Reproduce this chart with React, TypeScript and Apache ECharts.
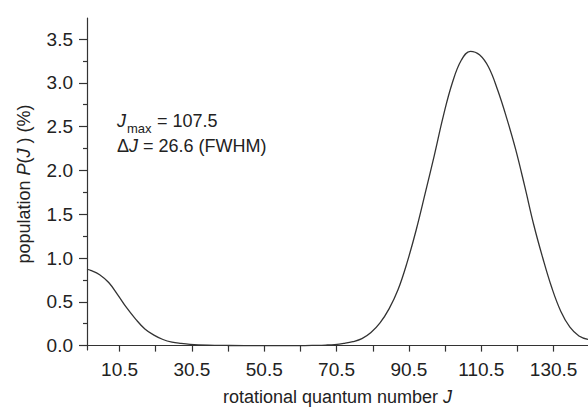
import React, { useEffect, useRef } from "react";
import * as echarts from "echarts";

const J_VALUES = [1.5, 2.5, 5, 7.5, 10, 12.5, 15, 17.5, 20, 22.5, 25, 27.5, 30, 35, 40, 45, 50, 55, 60, 65, 67.5, 70, 72.5, 75, 77.5, 80, 82.5, 85, 87.5, 90, 92.5, 95, 97.5, 100, 102.5, 105, 107.5, 110, 112.5, 115, 117.5, 120, 122.5, 125, 127.5, 130, 132.5, 135, 137.5, 140];
const POPULATION = [0.87, 0.86, 0.81, 0.72, 0.58, 0.43, 0.3, 0.19, 0.12, 0.07, 0.04, 0.025, 0.015, 0.006, 0.002, 0.0, 0.0, 0.0, 0.0, 0.003, 0.006, 0.012, 0.025, 0.045, 0.08, 0.15, 0.26, 0.42, 0.64, 0.95, 1.32, 1.74, 2.17, 2.62, 3.0, 3.26, 3.36, 3.32, 3.18, 2.92, 2.6, 2.24, 1.82, 1.38, 1.0, 0.66, 0.39, 0.21, 0.11, 0.07];

const X_LABELS = [10.5, 30.5, 50.5, 70.5, 90.5, 110.5, 130.5];
const X_TICKS = [10.5, 20.5, 30.5, 40.5, 50.5, 60.5, 70.5, 80.5, 90.5, 100.5, 110.5, 120.5, 130.5];
const Y_LABELS = [0, 0.5, 1.0, 1.5, 2.0, 2.5, 3.0, 3.5];
const Y_MINOR = [0.25, 0.75, 1.25, 1.75, 2.25, 2.75, 3.25];

const FONT = "'Liberation Sans', Arial, Helvetica, sans-serif";
const INK = "#222";

export default function App() {
  const ref = useRef<HTMLDivElement>(null);
  useEffect(() => {
    if (!ref.current) return;
    const chart = echarts.init(ref.current, undefined, { renderer: "svg" });
    const yMin = -0.05;
    const yMax = 3.74;
    chart.setOption({
      animation: false,
      backgroundColor: "#fff",
      textStyle: { fontFamily: FONT, color: INK },
      grid: { left: 87, right: 0, top: 18, bottom: 64 },
      xAxis: {
        type: "value",
        min: 1.5,
        max: 140,
        splitLine: { show: false },
        axisLine: { lineStyle: { color: "#333", width: 1.2 } },
        axisTick: { customValues: X_TICKS, length: 6, inside: false, lineStyle: { color: "#333", width: 1.2 } },
        axisLabel: {
          customValues: X_LABELS,
          formatter: (v: number) => v.toFixed(1),
          fontSize: 19,
          color: INK,
          margin: 10,
          fontFamily: FONT,
        },
        name: "rotational quantum number {i|J}",
        nameLocation: "middle",
        nameGap: 38,
        nameTextStyle: {
          fontSize: 18,
          color: INK,
          fontFamily: FONT,
          rich: { i: { fontSize: 18, fontStyle: "italic", color: INK, fontFamily: FONT } },
        },
      },
      yAxis: [
        {
          type: "value",
          min: yMin,
          max: yMax,
          position: "left",
          splitLine: { show: false },
          axisLine: { show: true, lineStyle: { color: "#333", width: 1.2 } },
          axisTick: { show: true, customValues: Y_LABELS, length: 8, lineStyle: { color: "#333", width: 1.2 } },
          axisLabel: {
            customValues: Y_LABELS,
            formatter: (v: number) => v.toFixed(1),
            fontSize: 19,
            color: INK,
            margin: 14,
            fontFamily: FONT,
          },
          name: "{n|population }{i|P}{n|(}{i|J}{n| ) (%)}",
          nameLocation: "middle",
          nameGap: 54,
          nameTextStyle: {
            fontSize: 18,
            color: INK,
            fontFamily: FONT,
            rich: {
              n: { fontSize: 18, color: INK, fontFamily: FONT },
              i: { fontSize: 18, fontStyle: "italic", color: INK, fontFamily: FONT },
            },
          },
        },
        {
          type: "value",
          min: yMin,
          max: yMax,
          position: "left",
          offset: 0,
          splitLine: { show: false },
          axisLine: { show: false },
          axisTick: { show: true, customValues: Y_MINOR, length: 4, lineStyle: { color: "#333", width: 1.2 } },
          axisLabel: { show: false },
        },
      ],
      series: [
        {
          type: "line",
          data: J_VALUES.map((j, i) => [j, POPULATION[i]]),
          smooth: 0.4,
          showSymbol: false,
          symbol: "none",
          lineStyle: { color: "#333", width: 1.3 },
          clip: true,
        },
      ],
      graphic: [
        {
          type: "text",
          left: 117,
          top: 112,
          style: { text: "J", fill: INK, font: `italic 18px ${FONT}` },
        },
        {
          type: "text",
          left: 127,
          top: 122,
          style: { text: "max", fill: INK, font: `13px ${FONT}` },
        },
        {
          type: "text",
          left: 157,
          top: 112,
          style: { text: "= 107.5", fill: INK, font: `18px ${FONT}` },
        },
        {
          type: "text",
          left: 117,
          top: 137,
          style: {
            text: "{n|Δ}{j|J}{n| = 26.6 (FWHM)}",
            fill: INK,
            font: `18px ${FONT}`,
            rich: {
              j: { fontSize: 18, fontStyle: "italic", fontFamily: FONT, fill: INK },
              n: { fontSize: 18, fontFamily: FONT, fill: INK },
            },
          },
        },
      ],
    });
    return () => chart.dispose();
  }, []);
  return (
    <div
      ref={ref}
      style={{ position: "fixed", left: 0, top: 0, width: 588, height: 414, background: "#fff" }}
    />
  );
}
